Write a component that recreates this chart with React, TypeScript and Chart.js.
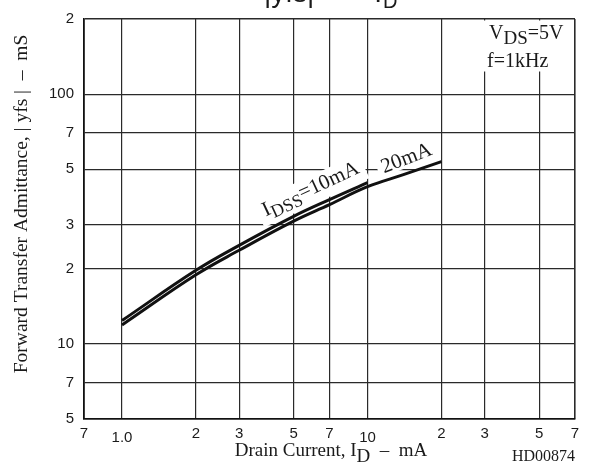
import React, { useEffect, useRef } from 'react';
import { Chart, registerables } from 'chart.js';

Chart.register(...registerables);

// ---- data ----
const idss10Current = [1, 2, 3, 5, 7, 10];
const idss10Yfs = [12.4, 19.7, 24.8, 32.4, 37.8, 44.2];
const idss20Current = [1, 2, 3, 5, 7, 10, 14, 20];
const idss20Yfs = [11.9, 18.9, 23.7, 31.0, 36.1, 42.6, 47.6, 53.7];

const xTickValues = [0.7, 1, 2, 3, 5, 7, 10, 20, 30, 50, 70];
const xTickLabels = ['7', '1.0', '2', '3', '5', '7', '10', '2', '3', '5', '7'];
const yTickValues = [5, 7, 10, 20, 30, 50, 70, 100, 200];
const yTickLabels = ['5', '7', '10', '2', '3', '5', '7', '100', '2'];

// label anchors in data coordinates (mA, mS)
const label10Anchor = { x: 5.91, y: 41.0 };
const label20Anchor = { x: 14.35, y: 55.9 };

const SERIF = "'Liberation Serif', 'Times New Roman', serif";
const SANS = "'Liberation Sans', Arial, sans-serif";

type Part = { t: string; sub?: boolean };

function richWidth(ctx: CanvasRenderingContext2D, parts: Part[], font: string, subFont: string) {
  let w = 0;
  for (const p of parts) {
    ctx.font = p.sub ? subFont : font;
    w += ctx.measureText(p.t).width;
  }
  return w;
}

function drawRich(
  ctx: CanvasRenderingContext2D,
  parts: Part[],
  x: number,
  y: number,
  font: string,
  subFont: string,
  subDy: number
) {
  ctx.textAlign = 'left';
  ctx.textBaseline = 'alphabetic';
  let cx = x;
  for (const p of parts) {
    ctx.font = p.sub ? subFont : font;
    ctx.fillText(p.t, cx, p.sub ? y + subDy : y);
    cx += ctx.measureText(p.t).width;
  }
}

const decorPlugin = {
  id: 'decor',
  beforeDatasetsDraw(chart: any) {
    const ctx: CanvasRenderingContext2D = chart.ctx;
    const { chartArea } = chart;
    const xs = chart.scales.x;
    const ys = chart.scales.y;
    ctx.save();
    ctx.fillStyle = '#ffffff';
    // box behind condition text
    ctx.fillRect(chartArea.right - 105, chartArea.top + 1.5, 102, 51);
    // box behind IDSS=10mA
    const p10x = xs.getPixelForValue(label10Anchor.x);
    const p10y = ys.getPixelForValue(label10Anchor.y);
    ctx.save();
    ctx.translate(p10x, p10y);
    ctx.rotate((-25 * Math.PI) / 180);
    ctx.fillRect(-58, -14, 116, 27);
    ctx.restore();
    const p20x = xs.getPixelForValue(label20Anchor.x);
    const p20y = ys.getPixelForValue(label20Anchor.y);
    ctx.save();
    ctx.translate(p20x, p20y);
    ctx.rotate((-21 * Math.PI) / 180);
    ctx.fillRect(-31, -12, 62, 22);
    ctx.restore();
    ctx.restore();
  },
  afterDatasetsDraw(chart: any) {
    const ctx: CanvasRenderingContext2D = chart.ctx;
    const { chartArea } = chart;
    const xs = chart.scales.x;
    const ys = chart.scales.y;
    ctx.save();
    ctx.fillStyle = '#1a1a1a';

    // x tick labels
    ctx.font = `15px ${SANS}`;
    ctx.textAlign = 'center';
    ctx.textBaseline = 'middle';
    xTickValues.forEach((v, i) => {
      const px = xs.getPixelForValue(v);
      const lbl = xTickLabels[i];
      const dy = lbl === '1.0' || lbl === '10' ? 19 : 14.5;
      ctx.fillText(lbl, px, chartArea.bottom + dy);
    });

    // curve labels
    const f21 = `21px ${SERIF}`;
    const f17 = `18px ${SERIF}`;
    const parts10: Part[] = [{ t: 'I' }, { t: 'DSS', sub: true }, { t: '=10mA' }];
    const w10 = richWidth(ctx, parts10, f21, f17);
    ctx.save();
    ctx.translate(xs.getPixelForValue(label10Anchor.x), ys.getPixelForValue(label10Anchor.y));
    ctx.rotate((-25 * Math.PI) / 180);
    drawRich(ctx, parts10, -w10 / 2, 4, f21, f17, 5);
    ctx.restore();

    const parts20: Part[] = [{ t: '20mA' }];
    const w20 = richWidth(ctx, parts20, f21, f17);
    ctx.save();
    ctx.translate(xs.getPixelForValue(label20Anchor.x), ys.getPixelForValue(label20Anchor.y));
    ctx.rotate((-21 * Math.PI) / 180);
    drawRich(ctx, parts20, -w20 / 2, 7, f21, f17, 5);
    ctx.restore();

    // conditions
    const f20 = `20px ${SERIF}`;
    const f18 = `19px ${SERIF}`;
    drawRich(ctx, [{ t: 'V' }, { t: 'DS', sub: true }, { t: '=5V' }], chartArea.right - 86, chartArea.top + 20, f20, f18, 5);
    drawRich(ctx, [{ t: 'f=1kHz' }], chartArea.right - 88, chartArea.top + 48, f20, f18, 0);

    // axis titles
    const fx = `19px ${SERIF}`;
    const partsX: Part[] = [{ t: 'Drain Current, I' }, { t: 'D', sub: true }, { t: '  –  mA' }];
    const wx = richWidth(ctx, partsX, fx, fx);
    drawRich(ctx, partsX, 331 - wx / 2, 456, fx, fx, 6);

    ctx.save();
    ctx.translate(27, 204);
    ctx.rotate(-Math.PI / 2);
    ctx.font = `19.5px ${SERIF}`;
    ctx.textAlign = 'center';
    ctx.textBaseline = 'alphabetic';
    ctx.fillText('Forward Transfer Admittance, | yfs |  –  mS', 0, 0);
    ctx.restore();

    // figure code
    ctx.font = `16px ${SERIF}`;
    ctx.textAlign = 'right';
    ctx.textBaseline = 'alphabetic';
    ctx.fillText('HD00874', chartArea.right, 461);

    // cut-off title at the very top
    ctx.font = `28px ${SANS}`;
    ctx.textAlign = 'left';
    ctx.fillText('|yfs|', 264, 2);
    ctx.textAlign = 'right';
    ctx.fillText('–  I', 382, 2);
    ctx.textAlign = 'left';
    ctx.font = `20px ${SANS}`;
    ctx.fillText('D', 383, 8);

    ctx.restore();
  },
};

function gridColor(ctx: any) {
  return '#2a2a2a';
}

export default function App() {
  const ref = useRef<HTMLCanvasElement | null>(null);

  useEffect(() => {
    if (!ref.current) return;
    const chart = new Chart(ref.current, {
      type: 'line',
      data: {
        datasets: [
          {
            label: 'IDSS=10mA',
            data: idss10Current.map((x, i) => ({ x, y: idss10Yfs[i] })),
            borderColor: '#111',
            borderWidth: 3,
            pointRadius: 0,
            fill: false,
            tension: 0.4,
          },
          {
            label: 'IDSS=20mA',
            data: idss20Current.map((x, i) => ({ x, y: idss20Yfs[i] })),
            borderColor: '#111',
            borderWidth: 3,
            pointRadius: 0,
            fill: false,
            tension: 0.4,
          },
        ],
      },
      options: {
        responsive: false,
        animation: false,
        devicePixelRatio: 1,
        layout: { padding: { top: 14, right: 21, left: 0, bottom: 0 } },
        plugins: {
          legend: { display: false },
          tooltip: { enabled: false },
          title: { display: false },
        },
        scales: {
          x: {
            type: 'logarithmic',
            min: 0.7,
            max: 70,
            afterBuildTicks: (scale: any) => {
              scale.ticks = xTickValues.map((v) => ({ value: v, major: false }));
            },
            afterFit: (scale: any) => {
              scale.height = 56;
            },
            ticks: { display: false },
            grid: {
              color: gridColor,
              lineWidth: (c: any) => (c.tick && (c.tick.value === 0.7 || c.tick.value === 70) ? 1.6 : 1.2),
              drawTicks: false,
            },
            border: { display: true, color: '#111', width: 1.6 },
          },
          y: {
            type: 'logarithmic',
            min: 5,
            max: 200,
            afterBuildTicks: (scale: any) => {
              scale.ticks = yTickValues.map((v) => ({ value: v, major: false }));
            },
            afterFit: (scale: any) => {
              scale.width = 84;
            },
            ticks: {
              padding: 10,
              color: '#1a1a1a',
              font: { family: SANS, size: 15 },
              callback: (value: any) => {
                const i = yTickValues.indexOf(Number(value));
                return i >= 0 ? yTickLabels[i] : '';
              },
            },
            grid: {
              color: gridColor,
              lineWidth: (c: any) => (c.tick && (c.tick.value === 5 || c.tick.value === 200) ? 1.6 : 1.2),
              drawTicks: false,
            },
            border: { display: true, color: '#111', width: 1.6 },
          },
        },
      },
      plugins: [decorPlugin],
    } as any);
    return () => chart.destroy();
  }, []);

  return (
    <div style={{ position: 'fixed', left: 0, top: 0, width: 596, height: 475, background: '#fff' }}>
      <canvas ref={ref} width={596} height={475} style={{ width: 596, height: 475 }} />
    </div>
  );
}
